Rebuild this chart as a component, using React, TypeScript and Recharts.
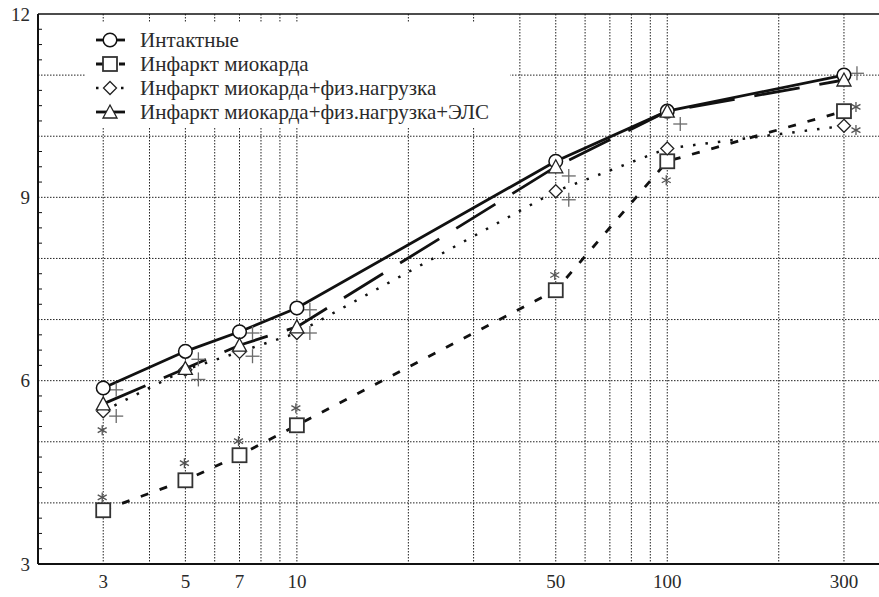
import React from 'react';
import {
  ComposedChart,
  Line,
  Scatter,
  XAxis,
  YAxis,
  CartesianGrid,
  ReferenceLine,
  Legend,
} from 'recharts';

// ---- data ----
const xValues = [3, 5, 7, 10, 50, 100, 300];
const intact = [5.88, 6.48, 6.8, 7.19, 9.59, 10.41, 11.0];
const infarct = [3.88, 4.37, 4.78, 5.27, 7.48, 9.59, 10.41];
const infarctLoad = [5.5, 6.18, 6.47, 6.78, 9.1, 9.8, 10.17];
const infarctLoadEls = [5.62, 6.2, 6.58, 6.88, 9.5, 10.41, 10.92];

const plusX = [3, 3, 5, 5, 7, 7, 10, 10, 50, 50, 100, 300];
const plusY = [5.85, 5.42, 6.35, 6.02, 6.78, 6.4, 7.16, 6.78, 9.35, 8.96, 10.2, 11.03];

const starAboveX = [3, 3, 5, 7, 10, 50, 100];
const starAboveY = [5.19, 4.09, 4.65, 5.01, 5.55, 7.73, 9.28];
const starSideX = [300, 300];
const starSideY = [10.48, 10.1];

const seriesNames = [
  'Интактные',
  'Инфаркт миокарда',
  'Инфаркт миокарда+физ.нагрузка',
  'Инфаркт миокарда+физ.нагрузка+ЭЛС',
];

const xTicks = [3, 5, 7, 10, 50, 100, 300];
const xGrid = [3, 4, 5, 6, 7, 8, 9, 10, 20, 30, 40, 50, 60, 70, 80, 90, 100, 200, 300];
const yMajor = [3, 6, 9, 12];
const yGrid = [4, 5, 6, 7, 8, 9, 10, 11];
const yAllTicks: number[] = [];
for (let v = 3; v <= 12.001; v += 0.25) yAllTicks.push(Math.round(v * 100) / 100);

const rows = xValues.map((x, i) => ({
  x,
  intact: intact[i],
  infarct: infarct[i],
  infarctLoad: infarctLoad[i],
  infarctLoadEls: infarctLoadEls[i],
}));
const plusData = plusX.map((x, i) => ({ x, y: plusY[i] }));
const starAboveData = starAboveX.map((x, i) => ({ x, y: starAboveY[i] }));
const starSideData = starSideX.map((x, i) => ({ x, y: starSideY[i] }));

const FONT = "'Liberation Serif', Tinos, 'DejaVu Serif', 'Times New Roman', Times, serif";
const TXT = '#2a2a2a';

// ---- marker shapes ----
const CircleM = ({ cx, cy }: any) => (
  <circle cx={cx} cy={cy} r={6.8} fill="#fff" stroke="#111" strokeWidth={1.5} />
);
const SquareM = ({ cx, cy }: any) => (
  <rect x={cx - 7} y={cy - 7} width={14} height={14} fill="#fff" stroke="#333" strokeWidth={1.8} />
);
const DiamondM = ({ cx, cy }: any) => (
  <path
    d={`M${cx},${cy - 6.5} L${cx + 6.5},${cy} L${cx},${cy + 6.5} L${cx - 6.5},${cy} Z`}
    fill="#fff"
    stroke="#222"
    strokeWidth={1.3}
  />
);
const TriangleM = ({ cx, cy }: any) => (
  <path
    d={`M${cx},${cy - 7} L${cx + 7},${cy + 6} L${cx - 7},${cy + 6} Z`}
    fill="#fff"
    stroke="#222"
    strokeWidth={1.3}
  />
);
const PlusM = ({ cx, cy }: any) => (
  <g stroke="#6a6a6a" strokeWidth={1.3}>
    <line x1={cx + 13 - 7} y1={cy} x2={cx + 13 + 7} y2={cy} />
    <line x1={cx + 13} y1={cy - 7} x2={cx + 13} y2={cy + 7} />
  </g>
);
const Star = ({ x, y }: { x: number; y: number }) => (
  <g stroke="#555" strokeWidth={1.3}>
    <line x1={x} y1={y - 5} x2={x} y2={y + 5} />
    <line x1={x - 4.5} y1={y - 2.5} x2={x + 4.5} y2={y + 2.5} />
    <line x1={x - 4.5} y1={y + 2.5} x2={x + 4.5} y2={y - 2.5} />
  </g>
);
const StarAboveM = ({ cx, cy }: any) => <Star x={cx - 1} y={cy} />;
const StarSideM = ({ cx, cy }: any) => <Star x={cx + 12} y={cy} />;

const dotFn = (Comp: any, name: string) => (p: any) =>
  p.cx == null ? null : <Comp key={`${name}-${p.index}`} cx={p.cx} cy={p.cy} />;

// ---- y axis tick with inward minor ticks ----
const YTick = (props: any) => {
  const { x, y, payload } = props;
  const axisX = x + 8;
  const v = payload.value;
  const isMajor = yMajor.indexOf(v) >= 0;
  return (
    <g>
      {!isMajor && Math.abs(v - Math.round(v)) > 0.01 && (
        <line x1={axisX} y1={y} x2={axisX + 4} y2={y} stroke="#111" strokeWidth={1} />
      )}
      {isMajor && (
        <text
          x={x}
          y={y}
          dy="0.35em"
          textAnchor="end"
          style={{ fontFamily: FONT, fontSize: 19 }}
          fill={TXT}
        >
          {v}
        </text>
      )}
    </g>
  );
};

const XTick = (props: any) => {
  const { x, y, payload } = props;
  return (
    <text x={x} y={y} dy="0.71em" textAnchor="middle" style={{ fontFamily: FONT, fontSize: 19 }} fill={TXT}>
      {payload.value}
    </text>
  );
};

// ---- legend ----
const LegendBox = () => {
  const rowsY = [18, 42, 66, 90];
  return (
    <div style={{ width: 425, height: 106, background: '#fff', position: 'relative' }}>
      <svg width={425} height={106} style={{ position: 'absolute', left: 0, top: 0 }}>
        <line x1={11} y1={rowsY[0]} x2={40} y2={rowsY[0]} stroke="#111" strokeWidth={2.8} />
        <CircleM cx={25} cy={rowsY[0]} />
        <line x1={11} y1={rowsY[1]} x2={40} y2={rowsY[1]} stroke="#111" strokeWidth={2.8} strokeDasharray="7 16 7" />
        <SquareM cx={25} cy={rowsY[1]} />
        <line x1={11} y1={rowsY[2]} x2={40} y2={rowsY[2]} stroke="#111" strokeWidth={2.5} strokeDasharray="2.5 10" />
        <DiamondM cx={25} cy={rowsY[2]} />
        <line x1={11} y1={rowsY[3]} x2={40} y2={rowsY[3]} stroke="#111" strokeWidth={2.8} />
        <TriangleM cx={25} cy={rowsY[3]} />
        {seriesNames.map((n, i) => (
          <text
            key={n}
            x={55}
            y={rowsY[i]}
            dy="0.35em"
            style={{ fontFamily: FONT, fontSize: 21 }}
            fill={TXT}
          >
            {n}
          </text>
        ))}
      </svg>
    </div>
  );
};

export default function App() {
  return (
    <div style={{ position: 'absolute', left: 0, top: 0, width: 879, height: 597, background: '#fff', fontFamily: FONT }}>
      <ComposedChart
        width={879}
        height={597}
        data={rows}
        margin={{ top: 14, right: 0, bottom: 0, left: 0 }}
      >
        <CartesianGrid
          stroke="#222"
          strokeDasharray="1.5 1.5"
          verticalValues={xGrid}
          horizontalValues={yGrid}
        />
        <XAxis
          dataKey="x"
          type="number"
          scale="log"
          domain={[2, 373]}
          allowDataOverflow
          ticks={xTicks}
          interval={0}
          tickLine={false}
          tickSize={0}
          tickMargin={11}
          height={33}
          axisLine={{ stroke: '#111', strokeWidth: 2 }}
          tick={<XTick />}
        />
        <YAxis
          type="number"
          domain={[3, 12]}
          ticks={yAllTicks}
          interval={0}
          width={38}
          tickLine={false}
          tickSize={0}
          tickMargin={8}
          axisLine={{ stroke: '#111', strokeWidth: 2 }}
          tick={<YTick />}
        />
        <ReferenceLine y={12} stroke="#111" strokeWidth={1.5} ifOverflow="extendDomain" />
        <Line
          dataKey="infarct"
          type="linear"
          stroke="#111"
          strokeWidth={2.8}
          strokeDasharray="8 12"
          dot={dotFn(SquareM, 'sq')}
          activeDot={false}
          isAnimationActive={false}
        />
        <Line
          dataKey="infarctLoad"
          type="linear"
          stroke="#111"
          strokeWidth={2.5}
          strokeDasharray="2.5 10"
          dot={dotFn(DiamondM, 'di')}
          activeDot={false}
          isAnimationActive={false}
        />
        <Line
          dataKey="intact"
          type="linear"
          stroke="#111"
          strokeWidth={2.8}
          dot={dotFn(CircleM, 'ci')}
          activeDot={false}
          isAnimationActive={false}
        />
        <Line
          dataKey="infarctLoadEls"
          type="linear"
          stroke="#111"
          strokeWidth={2.8}
          strokeDasharray="46 20"
          dot={dotFn(TriangleM, 'tr')}
          activeDot={false}
          isAnimationActive={false}
        />
        <Scatter data={plusData} dataKey="y" shape={<PlusM />} isAnimationActive={false} />
        <Scatter data={starAboveData} dataKey="y" shape={<StarAboveM />} isAnimationActive={false} />
        <Scatter data={starSideData} dataKey="y" shape={<StarSideM />} isAnimationActive={false} />
        <Legend
          layout="vertical"
          align="center"
          verticalAlign="middle"
          wrapperStyle={{ left: 85, top: 22, width: 425, height: 106 }}
          content={() => <LegendBox />}
        />
      </ComposedChart>
    </div>
  );
}
